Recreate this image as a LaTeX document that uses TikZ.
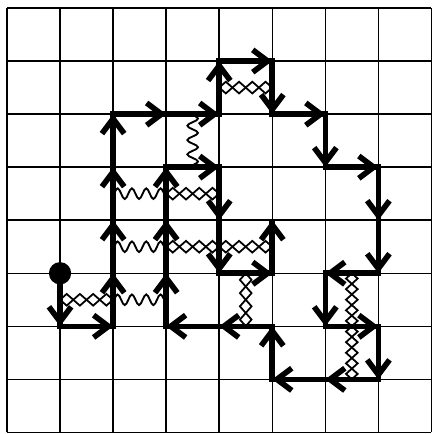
\documentclass[tikz,border=0pt]{standalone}
\usetikzlibrary{arrows.meta,decorations.pathmorphing,calc}
\begin{document}
\begin{tikzpicture}[
  gridline/.style={line width=0.8pt, black},
  walk/.style={line width=3pt, black, line join=miter},
  stepa/.style={line width=3pt, black, -{Straight Barb[length=2.8mm, width=4.2mm]}},
  wave/.style={line width=1pt, decorate, decoration={snake, segment length=0.27cm, amplitude=0.1cm}},
  zz/.style={line width=0.95pt, decorate, decoration={zigzag, segment length=#1, amplitude=0.11cm}},
  zzm/.style={line width=0.95pt, decorate, decoration={zigzag, segment length=#1, amplitude=0.11cm, mirror}},
]
\useasboundingbox (-0.132,-0.03) rectangle (8.02,8.151);
% grid
\foreach \k in {0,...,8} {
  \draw[gridline] (\k,0) -- (\k,8);
  \draw[gridline] (0,\k) -- (8,\k);
}
\foreach \i in {0,...,8} {
  \foreach \j in {0,...,8} {
    \coordinate (g\i\j) at (\i,8-\j);
  }
}
% couplings: waves
\draw[wave] ($(g32)!.5!(g42)$) -- ($(g33)!.5!(g43)$);
\draw[wave] ($(g23)!.5!(g24)$) -- ($(g33)!.5!(g34)$);
\draw[wave] ($(g24)!.5!(g25)$) -- ($(g34)!.5!(g35)$);
\draw[wave] ($(g25)!.5!(g26)$) -- ($(g35)!.5!(g36)$);
% couplings: diamond chains (4 per cell)
\foreach \a/\b/\c/\d in {41/42/51/52, 33/34/43/44, 34/35/44/45, 44/45/54/55, 15/16/25/26} {
  \draw[zz=0.499cm] ($(g\a)!.5!(g\b)$) -- ($(g\c)!.5!(g\d)$);
  \draw[zzm=0.499cm] ($(g\a)!.5!(g\b)$) -- ($(g\c)!.5!(g\d)$);
}
\draw[zz=0.499cm] ($(g45)!.5!(g55)$) -- ($(g46)!.5!(g56)$);
\draw[zzm=0.499cm] ($(g45)!.5!(g55)$) -- ($(g46)!.5!(g56)$);
% vertical chains (5 per cell)
\foreach \a/\b/\c/\d in {65/75/66/76, 66/76/67/77} {
  \draw[zz=0.399cm] ($(g\a)!.5!(g\b)$) -- ($(g\c)!.5!(g\d)$);
  \draw[zzm=0.399cm] ($(g\a)!.5!(g\b)$) -- ($(g\c)!.5!(g\d)$);
}
% the walk
\draw[walk] (g15) -- (g16) -- (g26) -- (g25) -- (g24) -- (g23) -- (g22) -- (g32) -- (g42) -- (g41) -- (g51) -- (g52) -- (g62) -- (g63) -- (g73) -- (g74) -- (g75) -- (g65) -- (g66) -- (g76) -- (g77) -- (g67) -- (g57) -- (g56) -- (g46) -- (g36) -- (g35) -- (g34) -- (g33) -- (g43) -- (g44) -- (g45) -- (g55) -- (g54);
\foreach \a/\b in {15/16,16/26,26/25,25/24,24/23,23/22,22/32,32/42,42/41,41/51,51/52,52/62,62/63,63/73,73/74,74/75,75/65,65/66,66/76,76/77,77/67,67/57,57/56,56/46,46/36,36/35,35/34,34/33,33/43,43/44,44/45,45/55,55/54} {
  \draw[stepa] (g\a) -- (g\b);
}
\node[circle, fill=black, inner sep=0pt, minimum size=0.42cm] (start) at (g15) {};
\end{tikzpicture}
\end{document}
